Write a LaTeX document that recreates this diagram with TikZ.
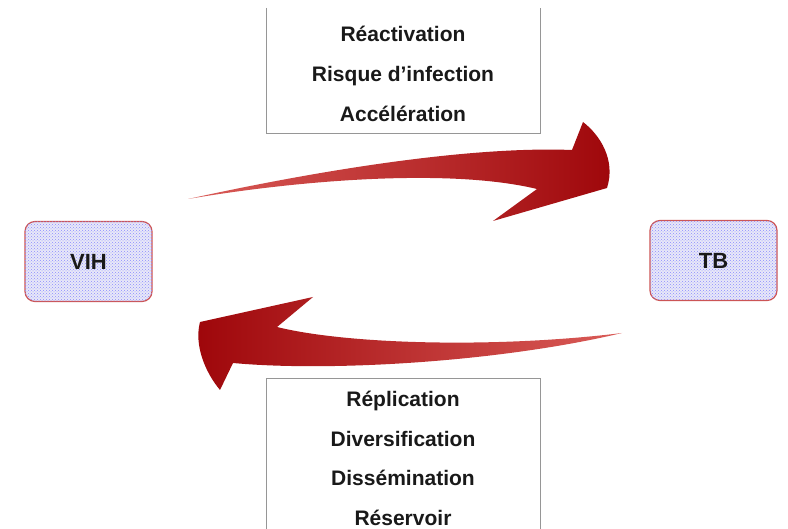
\documentclass[tikz,border=0pt]{standalone}
\usepackage{fontspec}
\setmainfont{Liberation Sans}
\usetikzlibrary{patterns}

\definecolor{rougeclair}{RGB}{218,92,88}
\definecolor{rougefonce}{RGB}{158,6,10}
\definecolor{bordhote}{RGB}{205,85,85}
\definecolor{fondhote}{RGB}{232,232,248}
\definecolor{trait}{RGB}{150,150,150}
\definecolor{encre}{RGB}{25,25,25}

\begin{document}
\begin{tikzpicture}[x=1pt,y=-1pt,
  hote/.style={draw=bordhote, line width=1.2pt, rounded corners=10pt,
    fill=fondhote, postaction={pattern=crosshatch dots, pattern color=blue!45},
    minimum width=127pt, minimum height=80pt, text=encre,
    font=\fontsize{22}{26}\selectfont\bfseries},
  effet/.style={anchor=base, inner sep=0pt, text=encre,
    font=\fontsize{21}{25}\selectfont\bfseries}]

\useasboundingbox (0,0) rectangle (788,529);

% les deux hotes
\node[hote] (vih) at (88.5,261.5) {VIH};
\node[hote] (tb) at (713.5,260.5) {TB};

% fleche du haut : VIH vers TB
\shade[left color=rougeclair, right color=rougefonce]
  (188,199) .. controls (320,170) and (470,146) .. (572,150)
  -- (583,122) .. controls (600,135) and (616,160) .. (607,188)
  -- (493,221) -- (537,189)
  .. controls (450,168) and (300,180) .. (188,199) -- cycle;

% fleche du bas : TB vers VIH
\shade[left color=rougefonce, right color=rougeclair]
  (622,333) .. controls (500,348) and (350,345) .. (277,327)
  -- (313,297) -- (200,322) .. controls (194,345) and (205,372) .. (220,390)
  -- (233,363) .. controls (330,372) and (500,362) .. (622,333) -- cycle;

% cadres
\draw[trait, line width=1pt] (266,8) |- (540,134) -- (540,8);
\draw[trait, line width=1pt] (266,531) |- (540,379) -- (540,531);

\foreach \mot [count=\i] in {Réactivation, Risque d’infection, Accélération}
  \node[effet] (haut\i) at (403, 2+40*\i) {\mot};

\foreach \mot [count=\i] in {Réplication, Diversification, Dissémination, Réservoir}
  \node[effet] (bas\i) at (403, 366.5+39.8*\i) {\mot};

\end{tikzpicture}
\end{document}
